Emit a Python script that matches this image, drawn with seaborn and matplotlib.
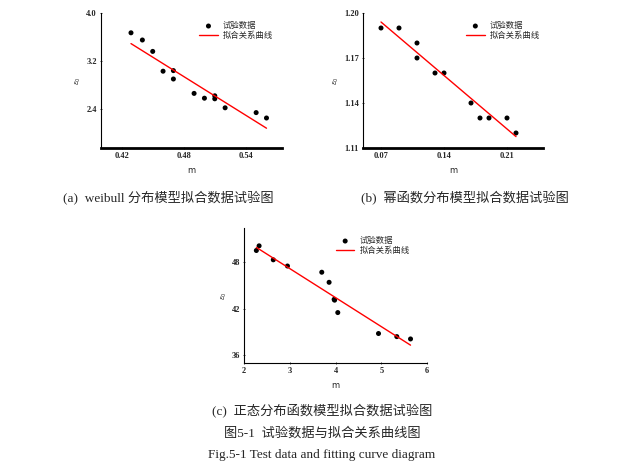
"""Test data vs. fitted curves for three distribution models (Fig. 5-1)."""

import matplotlib

matplotlib.use("Agg")
import matplotlib.pyplot as plt
import pandas as pd
import seaborn as sns

sns.set_theme(style="white")
plt.rcParams["font.family"] = ["Liberation Serif", "Noto Sans CJK SC", "DejaVu Sans"]

# (a) weibull model
a_m = [0.429, 0.440, 0.450, 0.460, 0.470, 0.470, 0.490, 0.500, 0.510, 0.510, 0.520, 0.550, 0.560]
a_e = [3.67, 3.55, 3.36, 3.03, 3.04, 2.90, 2.66, 2.58, 2.62, 2.57, 2.42, 2.34, 2.25]
a_fit_m = [0.429, 0.560]
a_fit_e = [3.49, 2.08]

# (b) power function model
b_m = [0.07, 0.09, 0.11, 0.11, 0.13, 0.14, 0.17, 0.18, 0.19, 0.21, 0.22]
b_e = [1.19, 1.19, 1.18, 1.17, 1.16, 1.16, 1.14, 1.13, 1.13, 1.13, 1.12]
b_fit_m = [0.07, 0.22]
b_fit_e = [1.194, 1.1176]

# (c) normal distribution model
c_m = [2.27, 2.33, 2.64, 2.95, 3.70, 3.86, 3.97, 3.98, 4.05, 4.94, 5.34, 5.64]
c_e = [49.5, 50.1, 48.3, 47.5, 46.7, 45.4, 43.2, 43.1, 41.5, 38.8, 38.4, 38.1]
c_fit_m = [2.27, 5.64]
c_fit_e = [49.9, 37.3]

W, H = 643, 462


def px_axes(fig, left, top, right, bottom):
    return fig.add_axes([left / W, 1 - bottom / H, (right - left) / W, (bottom - top) / H])


def panel(ax, m, e, fit_m, fit_e, xlim, ylim, xticks, yticks, xlabels, ylabels,
          bottom_lw, legend_anchor):
    pts = pd.DataFrame({"m": m, "e": e})
    fit = pd.DataFrame({"m": fit_m, "e": fit_e})
    sns.scatterplot(data=pts, x="m", y="e", ax=ax, color="black", s=13,
                    edgecolor="none", label="试验数据")
    sns.lineplot(data=fit, x="m", y="e", ax=ax, color="red", linewidth=1.0,
                 label="拟合关系曲线")
    ax.set_xlim(*xlim)
    ax.set_ylim(*ylim)
    ax.set_xticks(xticks)
    ax.set_yticks(yticks)
    ax.set_xticklabels(xlabels, fontsize=6, fontweight="bold")
    ax.set_yticklabels(ylabels, fontsize=6, fontweight="bold")
    ax.tick_params(axis="both", direction="inout", length=2, width=0.6, pad=2,
                   bottom=True, left=True)
    for side in ["top", "right"]:
        ax.spines[side].set_visible(False)
    ax.spines["left"].set_linewidth(0.8)
    ax.spines["bottom"].set_linewidth(bottom_lw)
    ax.spines["left"].set_color("black")
    ax.spines["bottom"].set_color("black")
    ax.set_xlabel("m", fontsize=6, family="DejaVu Sans", labelpad=4)
    ax.set_ylabel(r"$\varepsilon_0$", fontsize=5, labelpad=2)
    ax.legend(loc="upper left", bbox_to_anchor=legend_anchor, frameon=False,
              handlelength=2.2, handletextpad=0.6, labelspacing=0.1, borderpad=0,
              prop={"family": "Noto Sans CJK SC", "size": 6})


fig = plt.figure(figsize=(W / 100, H / 100), dpi=100)

ax_a = px_axes(fig, 101, 13, 282, 148)
panel(ax_a, a_m, a_e, a_fit_m, a_fit_e, (0.40, 0.575), (1.75, 4.0),
      [0.42, 0.48, 0.54], [2.4, 3.2, 4.0], ["0.42", "0.48", "0.54"],
      ["2.4", "3.2", "4.0"], 2.0, (0.52, 0.97))

ax_b = px_axes(fig, 363, 13, 543, 148)
panel(ax_b, b_m, b_e, b_fit_m, b_fit_e, (0.05, 0.25), (1.11, 1.20),
      [0.07, 0.14, 0.21], [1.11, 1.14, 1.17, 1.20], ["0.07", "0.14", "0.21"],
      ["1.11", "1.14", "1.17", "1.20"], 2.0, (0.55, 0.97))

ax_c = px_axes(fig, 244, 228, 427, 363)
panel(ax_c, c_m, c_e, c_fit_m, c_fit_e, (2, 6), (35.0, 52.4),
      [2, 3, 4, 5, 6], [36, 42, 48], ["2", "3", "4", "5", "6"],
      ["36", "42", "48"], 0.8, (0.48, 0.97))

fig.text(168 / W, 1 - 197 / H, "(a)  weibull 分布模型拟合数据试验图", ha="center", va="center",
         fontsize=9.5)
fig.text(465 / W, 1 - 197 / H, "(b)  幂函数分布模型拟合数据试验图", ha="center", va="center",
         fontsize=9.5)
fig.text(322 / W, 1 - 410 / H, "(c)  正态分布函数模型拟合数据试验图", ha="center", va="center",
         fontsize=9.5)
fig.text(322 / W, 1 - 433 / H, "图5-1  试验数据与拟合关系曲线图", ha="center", va="center",
         fontsize=9.5)
fig.text(322 / W, 1 - 455 / H, "Fig.5-1 Test data and fitting curve diagram", ha="center",
         va="center", fontsize=9.5)

fig.savefig("out.png", dpi=100)
